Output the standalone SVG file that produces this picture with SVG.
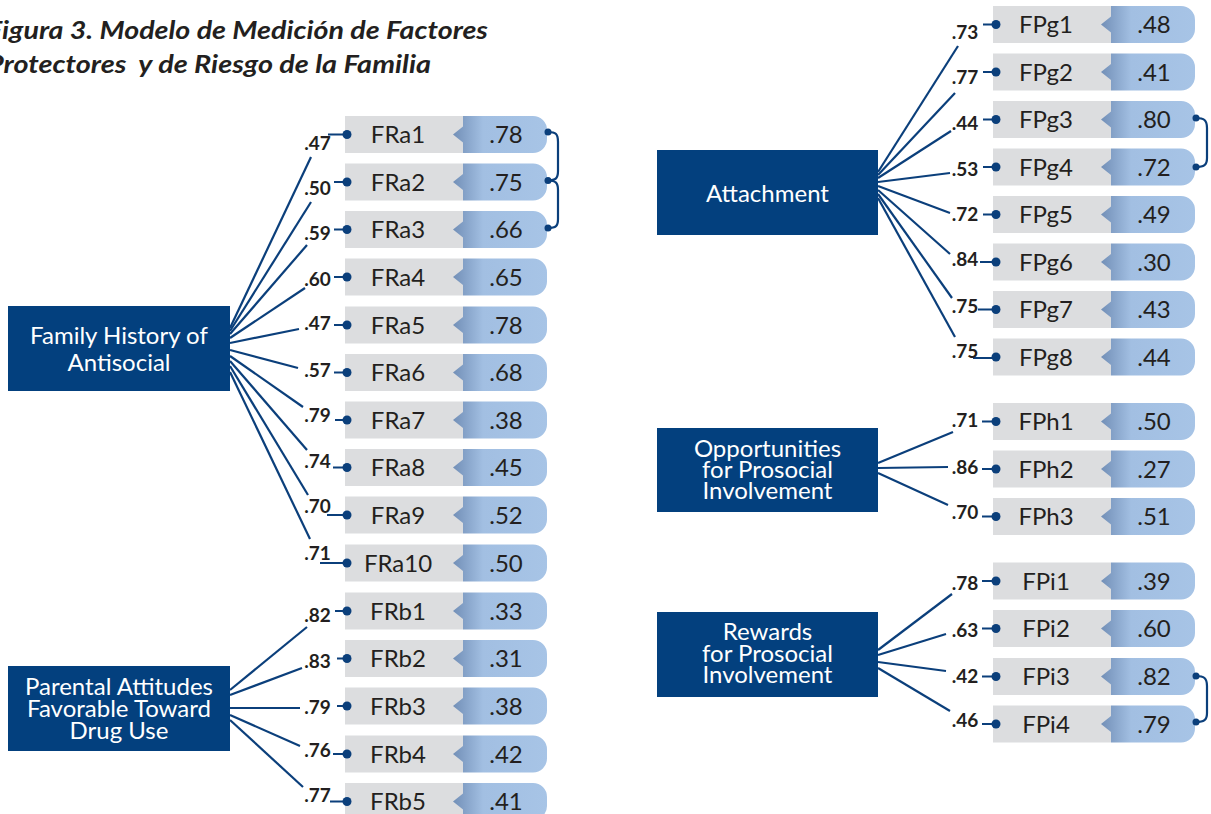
<svg xmlns="http://www.w3.org/2000/svg" xmlns:xlink="http://www.w3.org/1999/xlink" width="1211" height="814" viewBox="0 0 1211 814">
<style>
.lat{fill:#03407e}
.ln{stroke:#0b3f7b;stroke-width:2.2;fill:none}
.dt{fill:#0b3f7b}
.it{font-family:Lato,"Open Sans","Liberation Sans",sans-serif;font-size:24px;fill:#231f20;text-anchor:middle}
.lt{font-family:Lato,"Open Sans","Liberation Sans",sans-serif;font-size:24px;fill:#ffffff;text-anchor:middle}
.ld{font-family:Lato,"Open Sans","Liberation Sans",sans-serif;font-size:19px;font-weight:bold;fill:#231f20;text-anchor:middle}
.ti{font-family:Lato,"Open Sans","Liberation Sans",sans-serif;font-size:25px;font-weight:bold;font-style:italic;fill:#231f20}
</style>
<defs>
<linearGradient id="bg" x1="0" y1="0" x2="1" y2="0">
<stop offset="0" stop-color="#728fb7"/>
<stop offset="0.32" stop-color="#a2bfe2"/>
<stop offset="1" stop-color="#a7c4e6"/>
</linearGradient>
<g id="row">
<rect x="0" y="-18.5" width="118" height="37" fill="#dcdddf"/>
<path d="M118,-18.5 H188 A14,14 0 0 1 202,-4.5 V4.5 A14,14 0 0 1 188,18.5 H118 V8 L108,0 L118,-8 Z" fill="url(#bg)"/>
</g>
</defs>
<rect width="1211" height="814" fill="#ffffff"/>

<g id="title">
<text class="ti" x="-13" y="39" textLength="501" lengthAdjust="spacingAndGlyphs">Figura 3. Modelo de Medición de Factores</text>
<text class="ti" x="-13" y="73" textLength="444" lengthAdjust="spacingAndGlyphs" xml:space="preserve">Protectores  y de Riesgo de la Familia</text>
</g>

<!-- latent nodes -->
<g id="family-history">
<rect class="lat" x="8" y="306" width="222" height="85"/>
<text class="lt" x="119" y="344" font-size="26">Family History of</text>
<text class="lt" x="119" y="371" font-size="26">Antisocial</text>
</g>
<g id="parental-attitudes">
<rect class="lat" x="8" y="666" width="222" height="85"/>
<text class="lt" x="119" y="695">Parental Attitudes</text>
<text class="lt" x="119" y="717">Favorable Toward</text>
<text class="lt" x="119" y="739">Drug Use</text>
</g>
<g id="attachment">
<rect class="lat" x="657" y="150" width="221" height="85"/>
<text class="lt" x="767.5" y="201.5" font-size="25">Attachment</text>
</g>
<g id="opportunities">
<rect class="lat" x="657" y="428" width="221" height="84"/>
<text class="lt" x="767.5" y="457">Opportunities</text>
<text class="lt" x="767.5" y="478">for Prosocial</text>
<text class="lt" x="767.5" y="499">Involvement</text>
</g>
<g id="rewards">
<rect class="lat" x="657" y="612" width="221" height="85"/>
<text class="lt" x="767.5" y="640">Rewards</text>
<text class="lt" x="767.5" y="662">for Prosocial</text>
<text class="lt" x="767.5" y="683">Involvement</text>
</g>

<!-- indicator nodes left -->
<g id="FRa1" transform="translate(345,134.5)"><use href="#row"/><text class="it" x="53" y="8.5">FRa1</text><text class="it" x="161" y="8.5">.78</text></g>
<g id="FRa2" transform="translate(345,182)"><use href="#row"/><text class="it" x="53" y="8.5">FRa2</text><text class="it" x="161" y="8.5">.75</text></g>
<g id="FRa3" transform="translate(345,229.5)"><use href="#row"/><text class="it" x="53" y="8.5">FRa3</text><text class="it" x="161" y="8.5">.66</text></g>
<g id="FRa4" transform="translate(345,277)"><use href="#row"/><text class="it" x="53" y="8.5">FRa4</text><text class="it" x="161" y="8.5">.65</text></g>
<g id="FRa5" transform="translate(345,325)"><use href="#row"/><text class="it" x="53" y="8.5">FRa5</text><text class="it" x="161" y="8.5">.78</text></g>
<g id="FRa6" transform="translate(345,372.5)"><use href="#row"/><text class="it" x="53" y="8.5">FRa6</text><text class="it" x="161" y="8.5">.68</text></g>
<g id="FRa7" transform="translate(345,420)"><use href="#row"/><text class="it" x="53" y="8.5">FRa7</text><text class="it" x="161" y="8.5">.38</text></g>
<g id="FRa8" transform="translate(345,467.5)"><use href="#row"/><text class="it" x="53" y="8.5">FRa8</text><text class="it" x="161" y="8.5">.45</text></g>
<g id="FRa9" transform="translate(345,515)"><use href="#row"/><text class="it" x="53" y="8.5">FRa9</text><text class="it" x="161" y="8.5">.52</text></g>
<g id="FRa10" transform="translate(345,563)"><use href="#row"/><text class="it" x="53" y="8.5">FRa10</text><text class="it" x="161" y="8.5">.50</text></g>
<g id="FRb1" transform="translate(345,611)"><use href="#row"/><text class="it" x="53" y="8.5">FRb1</text><text class="it" x="161" y="8.5">.33</text></g>
<g id="FRb2" transform="translate(345,658.5)"><use href="#row"/><text class="it" x="53" y="8.5">FRb2</text><text class="it" x="161" y="8.5">.31</text></g>
<g id="FRb3" transform="translate(345,706)"><use href="#row"/><text class="it" x="53" y="8.5">FRb3</text><text class="it" x="161" y="8.5">.38</text></g>
<g id="FRb4" transform="translate(345,754)"><use href="#row"/><text class="it" x="53" y="8.5">FRb4</text><text class="it" x="161" y="8.5">.42</text></g>
<g id="FRb5" transform="translate(345,801.5)"><use href="#row"/><text class="it" x="53" y="8.5">FRb5</text><text class="it" x="161" y="8.5">.41</text></g>

<!-- indicator nodes right -->
<g id="FPg1" transform="translate(993,24.5)"><use href="#row"/><text class="it" x="53" y="8.5">FPg1</text><text class="it" x="161" y="8.5">.48</text></g>
<g id="FPg2" transform="translate(993,72)"><use href="#row"/><text class="it" x="53" y="8.5">FPg2</text><text class="it" x="161" y="8.5">.41</text></g>
<g id="FPg3" transform="translate(993,119.5)"><use href="#row"/><text class="it" x="53" y="8.5">FPg3</text><text class="it" x="161" y="8.5">.80</text></g>
<g id="FPg4" transform="translate(993,167)"><use href="#row"/><text class="it" x="53" y="8.5">FPg4</text><text class="it" x="161" y="8.5">.72</text></g>
<g id="FPg5" transform="translate(993,214.5)"><use href="#row"/><text class="it" x="53" y="8.5">FPg5</text><text class="it" x="161" y="8.5">.49</text></g>
<g id="FPg6" transform="translate(993,262)"><use href="#row"/><text class="it" x="53" y="8.5">FPg6</text><text class="it" x="161" y="8.5">.30</text></g>
<g id="FPg7" transform="translate(993,309.5)"><use href="#row"/><text class="it" x="53" y="8.5">FPg7</text><text class="it" x="161" y="8.5">.43</text></g>
<g id="FPg8" transform="translate(993,357)"><use href="#row"/><text class="it" x="53" y="8.5">FPg8</text><text class="it" x="161" y="8.5">.44</text></g>
<g id="FPh1" transform="translate(993,421.5)"><use href="#row"/><text class="it" x="53" y="8.5">FPh1</text><text class="it" x="161" y="8.5">.50</text></g>
<g id="FPh2" transform="translate(993,469)"><use href="#row"/><text class="it" x="53" y="8.5">FPh2</text><text class="it" x="161" y="8.5">.27</text></g>
<g id="FPh3" transform="translate(993,516.5)"><use href="#row"/><text class="it" x="53" y="8.5">FPh3</text><text class="it" x="161" y="8.5">.51</text></g>
<g id="FPi1" transform="translate(993,581)"><use href="#row"/><text class="it" x="53" y="8.5">FPi1</text><text class="it" x="161" y="8.5">.39</text></g>
<g id="FPi2" transform="translate(993,628.5)"><use href="#row"/><text class="it" x="53" y="8.5">FPi2</text><text class="it" x="161" y="8.5">.60</text></g>
<g id="FPi3" transform="translate(993,676.5)"><use href="#row"/><text class="it" x="53" y="8.5">FPi3</text><text class="it" x="161" y="8.5">.82</text></g>
<g id="FPi4" transform="translate(993,724)"><use href="#row"/><text class="it" x="53" y="8.5">FPi4</text><text class="it" x="161" y="8.5">.79</text></g>

<g id="connectors">
<!-- Family History -> FRa -->
<path class="ln" d="M230,328 L311,157"/>
<path class="ln" d="M230,331 L311,202"/>
<path class="ln" d="M230,334 L307,245"/>
<path class="ln" d="M230,338 L305,288"/>
<path class="ln" d="M230,343 L299,329"/>
<path class="ln" d="M230,350 L298,368"/>
<path class="ln" d="M230,356 L303,407"/>
<path class="ln" d="M230,361 L307,450"/>
<path class="ln" d="M230,366 L308,495"/>
<path class="ln" d="M230,372 L310,539"/>
<!-- Parental -> FRb -->
<path class="ln" d="M230,690 L307,627"/>
<path class="ln" d="M230,695 L302,668"/>
<path class="ln" d="M230,708 L300,708"/>
<path class="ln" d="M230,715 L300,746"/>
<path class="ln" d="M230,720 L303,787"/>
<!-- Attachment -> FPg -->
<path class="ln" d="M878,172 L958,46"/>
<path class="ln" d="M878,175 L955,93"/>
<path class="ln" d="M878,178 L951,131"/>
<path class="ln" d="M878,182 L950,173"/>
<path class="ln" d="M878,186 L950,213"/>
<path class="ln" d="M878,190 L950,254"/>
<path class="ln" d="M878,194 L952,298"/>
<path class="ln" d="M878,198 L955,337"/>
<!-- Opportunities -> FPh -->
<path class="ln" d="M878,463 L953,432"/>
<path class="ln" d="M878,468 L948,467"/>
<path class="ln" d="M878,473 L948,505"/>
<!-- Rewards -> FPi -->
<path class="ln" d="M878,650 L952,594"/>
<path class="ln" d="M878,655 L946,634"/>
<path class="ln" d="M878,662 L946,671"/>
<path class="ln" d="M878,668 L950,711"/>
<!-- short lines + dots, left -->
<path class="ln" d="M328,134.5 H347 M334,182 H347 M334,229.5 H347 M334,277 H347 M334,325 H347 M334,372.5 H347 M335,420 H347 M333,467.5 H347 M327,515 H347 M320,563 H347 M335,611 H347 M337,658.5 H347 M337,706 H347 M333,754 H347 M330,801.5 H347"/>
<g class="dt">
<circle cx="347" cy="134.5" r="4.5"/><circle cx="347" cy="182" r="4.5"/><circle cx="347" cy="229.5" r="4.5"/><circle cx="347" cy="277" r="4.5"/><circle cx="347" cy="325" r="4.5"/><circle cx="347" cy="372.5" r="4.5"/><circle cx="347" cy="420" r="4.5"/><circle cx="347" cy="467.5" r="4.5"/><circle cx="347" cy="515" r="4.5"/><circle cx="347" cy="563" r="4.5"/><circle cx="347" cy="611" r="4.5"/><circle cx="347" cy="658.5" r="4.5"/><circle cx="347" cy="706" r="4.5"/><circle cx="347" cy="754" r="4.5"/><circle cx="347" cy="801.5" r="4.5"/>
</g>
<!-- short lines + dots, right -->
<path class="ln" d="M983,24.5 H996 M983,72 H996 M983,119.5 H996 M983,167 H996 M983,214.5 H996 M980,262 H996 M978,309.5 H996 M973,358 H996 M982,421.5 H996 M982,469 H996 M982,516.5 H996 M982,581 H996 M982,628.5 H996 M982,676.5 H996 M982,724 H996"/>
<g class="dt">
<circle cx="996" cy="24.5" r="4.5"/><circle cx="996" cy="72" r="4.5"/><circle cx="996" cy="119.5" r="4.5"/><circle cx="996" cy="167" r="4.5"/><circle cx="996" cy="214.5" r="4.5"/><circle cx="996" cy="262" r="4.5"/><circle cx="996" cy="309.5" r="4.5"/><circle cx="996" cy="357" r="4.5"/><circle cx="996" cy="421.5" r="4.5"/><circle cx="996" cy="469" r="4.5"/><circle cx="996" cy="516.5" r="4.5"/><circle cx="996" cy="581" r="4.5"/><circle cx="996" cy="628.5" r="4.5"/><circle cx="996" cy="676.5" r="4.5"/><circle cx="996" cy="724" r="4.5"/>
</g>
<!-- correlations -->
<path class="ln" d="M548,132 C556,132 558,134 558,142 V171 C558,178 556,180.5 548,180.5"/>
<path class="ln" d="M548,180.5 C556,180.5 558,183 558,190 V219 C558,226 556,228 548,228"/>
<path class="ln" d="M1196,118 C1204,118 1207,120 1207,128 V158 C1207,165 1204,167 1196,167"/>
<path class="ln" d="M1196,676 C1204,676 1207,678 1207,686 V713 C1207,720 1204,722 1196,722"/>
<g class="dt">
<circle cx="548" cy="132" r="3.5"/><circle cx="548" cy="180.5" r="3.5"/><circle cx="548" cy="228" r="3.5"/>
<circle cx="1196" cy="118" r="3.5"/><circle cx="1196" cy="167" r="3.5"/>
<circle cx="1196" cy="676" r="3.5"/><circle cx="1196" cy="722" r="3.5"/>
</g>
<!-- loading labels -->
<g>
<text class="ld" x="317.5" y="149.5">.47</text>
<text class="ld" x="317.5" y="194.5">.50</text>
<text class="ld" x="317.5" y="239.5">.59</text>
<text class="ld" x="317.5" y="285.5">.60</text>
<text class="ld" x="317.5" y="330">.47</text>
<text class="ld" x="317.5" y="376.5">.57</text>
<text class="ld" x="317.5" y="421.5">.79</text>
<text class="ld" x="317.5" y="467.5">.74</text>
<text class="ld" x="317.5" y="512.5">.70</text>
<text class="ld" x="317.5" y="559.5">.71</text>
<text class="ld" x="317.5" y="621.5">.82</text>
<text class="ld" x="317.5" y="667.5">.83</text>
<text class="ld" x="317.5" y="713.5">.79</text>
<text class="ld" x="317.5" y="756.5">.76</text>
<text class="ld" x="317.5" y="801.5">.77</text>
<text class="ld" x="965" y="38.5">.73</text>
<text class="ld" x="965" y="83.5">.77</text>
<text class="ld" x="965" y="129.5">.44</text>
<text class="ld" x="965" y="175.5">.53</text>
<text class="ld" x="965" y="220.5">.72</text>
<text class="ld" x="965" y="265.5">.84</text>
<text class="ld" x="965" y="312.5">.75</text>
<text class="ld" x="965" y="357.5">.75</text>
<text class="ld" x="965" y="426.5">.71</text>
<text class="ld" x="965" y="473.5">.86</text>
<text class="ld" x="965" y="518.5">.70</text>
<text class="ld" x="965" y="589.5">.78</text>
<text class="ld" x="965" y="636.5">.63</text>
<text class="ld" x="965" y="682.5">.42</text>
<text class="ld" x="965" y="726.5">.46</text>
</g>
</g>
</svg>
